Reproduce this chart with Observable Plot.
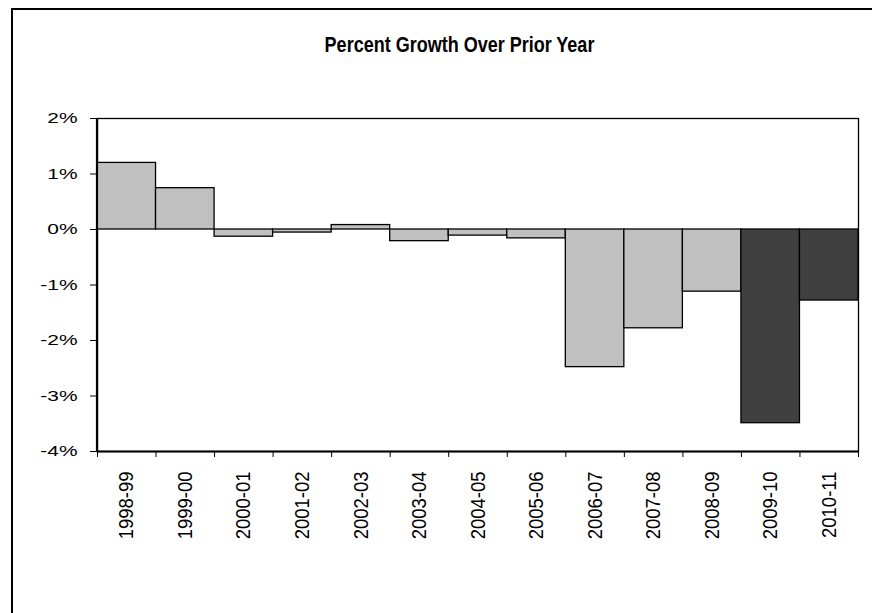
<!DOCTYPE html>
<html>
<head>
<meta charset="utf-8">
<script src="https://cdn.jsdelivr.net/npm/d3@7"></script>
<script src="https://cdn.jsdelivr.net/npm/@observablehq/plot@0.6"></script>
<style>
  html, body { margin: 0; padding: 0; background: #fff; overflow: hidden; width: 872px; height: 613px; }
  #wrap { position: relative; width: 872px; height: 613px; overflow: hidden; font-family: "Liberation Sans", Arial, sans-serif; }
  #border { position: absolute; left: 11px; top: 8px; width: 1000px; height: 1000px; border: 2px solid #000; box-sizing: border-box; }
  #title { position: absolute; left: 0; width: 919px; top: 33px; text-align: center; font-weight: bold; font-size: 18px; line-height: 20px; transform: scaleY(1.2); transform-origin: center top; color: #000; }
  #chart { position: absolute; left: 0; top: 0; }
</style>
</head>
<body>
<div id="wrap">
  <div id="border"></div>
  <div id="chart"></div>
  <div id="title">Percent Growth Over Prior Year</div>
</div>
<script>
const years = ["1998-99","1999-00","2000-01","2001-02","2002-03","2003-04","2004-05","2005-06","2006-07","2007-08","2008-09","2009-10","2010-11"];
const growth = [1.20, 0.745, -0.13, -0.055, 0.08, -0.21, -0.11, -0.16, -2.48, -1.78, -1.12, -3.49, -1.28];
const kinds = ["a","a","a","a","a","a","a","a","a","a","a","b","b"];
const yTicks = [-4, -3, -2, -1, 0, 1, 2];

const data = years.map((y, i) => ({year: y, value: growth[i], kind: kinds[i]}));

const chart = Plot.plot({
  width: 872,
  height: 613,
  marginLeft: 97,
  marginRight: 14,
  marginTop: 118,
  marginBottom: 162,
  style: {fontFamily: "Liberation Sans, Arial, sans-serif", color: "#000", background: "transparent"},
  x: {domain: years, paddingInner: 0, paddingOuter: 0, round: false, label: null},
  y: {domain: [-4, 2], ticks: yTicks, label: null},
  color: {domain: ["a", "b"], range: ["#c0c0c0", "#404040"]},
  marks: [
    Plot.frame({stroke: "#000", strokeWidth: 1.3}),
    Plot.barY(data, {x: "year", y: "value", fill: "kind", stroke: "#000", strokeWidth: 1.3, inset: 0}),
    Plot.ruleY([-4], {stroke: "#000", strokeWidth: 2.2}),
    Plot.axisY({ticks: yTicks, tickFormat: d => d + "%", tickSize: 7, tickPadding: 13, fontSize: 15.5, label: null}),
    Plot.axisX({tickSize: 6, tickPadding: 14, tickRotate: -90, fontSize: 18.5, label: null})
  ]
});
document.getElementById("chart").appendChild(chart);

const ys = chart.scale("y");
const xs = chart.scale("x");
const bw = xs.bandwidth;
const svg = d3.select(chart);

// move x ticks to category boundaries
const xTickPaths = svg.selectAll('g[aria-label="x-axis tick"] path');
let lastNode = null, lastTx = 0, lastTy = 0;
xTickPaths.each(function() {
  const t = this.getAttribute("transform") || "";
  const m = /translate\(([-\d.e]+),\s*([-\d.e]+)\)/.exec(t);
  if (m) {
    const tx = +m[1], ty = +m[2];
    this.setAttribute("transform", `translate(${tx - bw / 2},${ty})`);
    lastNode = this; lastTx = tx; lastTy = ty;
  }
});
if (lastNode) {
  const c = lastNode.cloneNode(true);
  c.setAttribute("transform", `translate(${lastTx + bw / 2},${lastTy})`);
  lastNode.parentNode.appendChild(c);
}

// thicker left axis line at the first band start
const x0 = xs.apply(years[0]);
const yr = ys.range;
svg.append("line")
  .attr("x1", x0).attr("x2", x0)
  .attr("y1", Math.min(...yr)).attr("y2", Math.max(...yr))
  .attr("stroke", "#000").attr("stroke-width", 2.2);

// widen y tick labels horizontally
svg.selectAll('g[aria-label="y-axis tick label"] text').each(function() {
  const t = this.getAttribute("transform") || "";
  this.setAttribute("transform", t + " scale(1.35,1)");
});
// x labels: stretch glyph height
svg.selectAll('g[aria-label="x-axis tick label"] text').each(function() {
  const t = this.getAttribute("transform") || "";
  this.setAttribute("transform", t + " scale(1,1.12)");
});
</script>
</body>
</html>
